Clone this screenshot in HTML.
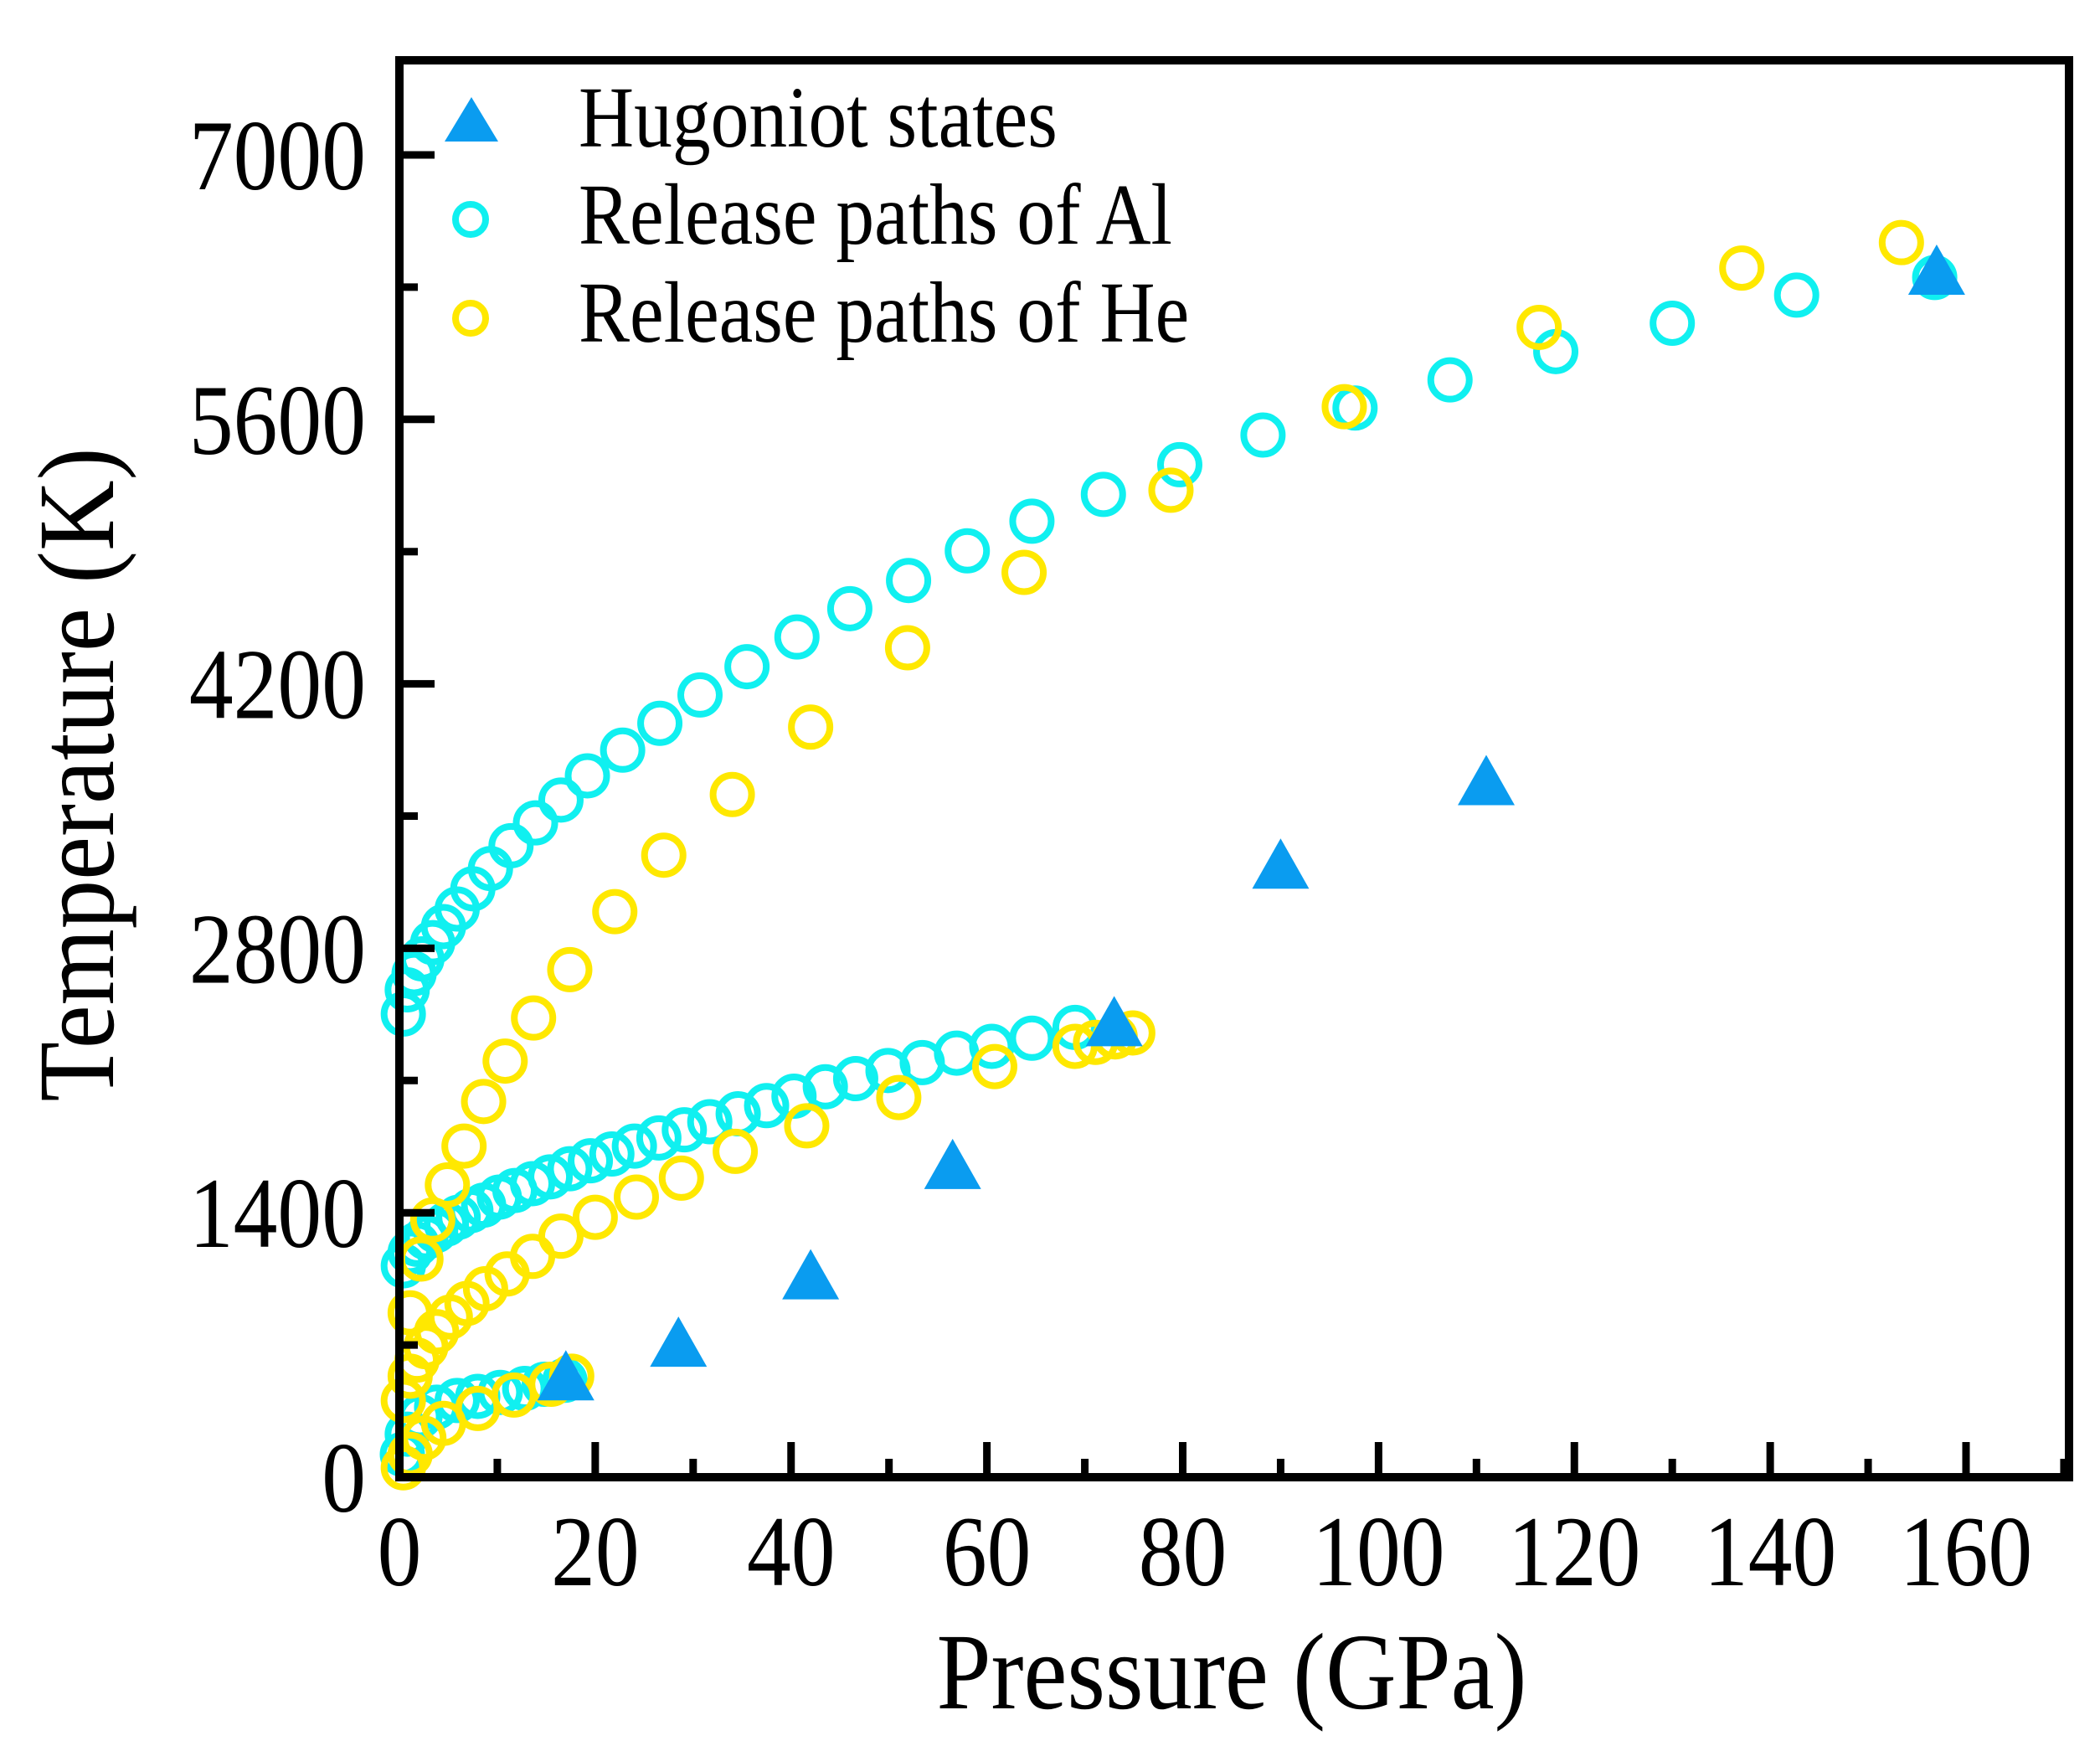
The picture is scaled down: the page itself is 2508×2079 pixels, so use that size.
<!DOCTYPE html>
<html><head><meta charset="utf-8"><style>
html,body{margin:0;padding:0;background:#fff;}
svg{display:block;font-family:"Liberation Serif",serif;}
</style></head><body>
<svg id="chart" width="2508" height="2079" viewBox="0 0 2508 2079" xmlns="http://www.w3.org/2000/svg">
<g id="marks"></g>
<rect x="477" y="72" width="1994" height="1692" fill="none" stroke="#000" stroke-width="10"/>
<g id="axes"></g>
<text transform="translate(1471,2040) scale(0.9,1)" font-size="130" text-anchor="middle">Pressure (GPa)</text>
<text transform="translate(135,925) rotate(-90) scale(0.9,1)" font-size="130" text-anchor="middle">Temperature (K)</text>
<g>
<polygon points="563,116 531,169 595,169" fill="#0a9cf0"/>
<text transform="translate(691,175) scale(0.88,1)" font-size="104">Hugoniot states</text>
<circle cx="562" cy="262" r="18" fill="none" stroke="#10f0f0" stroke-width="8"/>
<text transform="translate(691,291) scale(0.88,1)" font-size="104">Release paths of Al</text>
<circle cx="562" cy="380" r="18" fill="none" stroke="#ffe800" stroke-width="8"/>
<text transform="translate(691,408) scale(0.88,1)" font-size="104">Release paths of He</text>
</g>
</svg>
<script>
const xTicks=[0,20,40,60,80,100,120,140,160];
const yTicks=[0,1400,2800,4200,5600,7000];
const hugP=[17,28.5,42,56.5,73,90,111,157];
const hugT=[513,691,1048,1632,2388,3222,3664,6366];
const alUpP=[156.8,142.7,130.0,118.1,107.3,97.6,88.2,79.7,71.9,64.6,58.0,52.0,46.0,40.6,35.5,30.7,26.6,22.8,19.2,16.5,13.9,11.4,9.3,7.5,5.9,4.5,3.4,2.3,1.5,0.8,0.4];
const alUpT=[6351,6258,6109,5959,5809,5660,5517,5360,5203,5061,4904,4747,4598,4448,4291,4141,3991,3849,3713,3585,3464,3343,3222,3115,3008,2915,2830,2744,2666,2580,2452];
const alMidP=[69.0,64.6,60.5,56.9,53.4,49.9,46.6,43.5,40.3,37.5,34.6,31.7,29.1,26.5,24.0,21.7,19.5,17.4,15.4,13.6,11.8,10.2,8.6,7.3,6.0,4.8,3.7,2.7,1.8,1.1,0.4];
const alMidT=[2381,2324,2281,2245,2195,2153,2110,2067,2017,1967,1924,1882,1839,1796,1753,1711,1675,1633,1590,1554,1518,1483,1440,1411,1376,1340,1305,1269,1233,1191,1119];
const alLowP=[16.9,14.8,12.8,10.3,8.0,5.9,3.8,2.1,0.8,0.3];
const alLowT=[513,492,470,449,428,406,371,321,228,121];
const heUpP=[153.4,137.1,116.4,96.5,78.8,63.8,51.9,42.0,34.0,27.0,22.0,17.4,13.7,10.8,8.6,6.6,4.9,3.4,2.2,1.1];
const heUpT=[6536,6401,6087,5667,5225,4790,4391,3971,3614,3293,2994,2687,2431,2203,1989,1753,1547,1362,1155,870];
const heMidP=[74.9,73.1,71.1,69.0,60.8,51.0,41.6,34.3,28.8,24.2,20.0,16.5,13.6,11.0,8.8,6.9,5.2,3.8,2.7,1.8,1.1,0.4];
const heMidT=[2352,2331,2302,2281,2174,2010,1860,1725,1583,1483,1376,1276,1169,1076,998,920,848,770,691,620,535,406];
const heLowP=[17.6,15.5,11.7,8.0,4.5,2.5,1.1,0.4];
const heLowT=[535,492,435,364,285,207,121,50];

const NS="http://www.w3.org/2000/svg";
const X0=477,XW=2348-477,Y0=1764,YH=1764-185;
function sx(p){return X0+p/160*XW;}
function sy(t){return Y0-t/7000*YH;}
const marks=document.getElementById('marks');
const axes=document.getElementById('axes');
function mk(tag,attrs,parent){const e=document.createElementNS(NS,tag);for(const k in attrs)e.setAttribute(k,attrs[k]);parent.appendChild(e);return e;}

function circles(P,T,color,name){
  for(let i=0;i<P.length;i++){
    const c=mk('circle',{cx:sx(P[i]),cy:sy(T[i]),r:23,fill:'none',stroke:color,'stroke-width':8},marks);
    
    
  }
}
circles(alUpP,alUpT,'#10f0f0','al-release-point');
circles(alMidP,alMidT,'#10f0f0','al-release-point');
circles(alLowP,alLowT,'#10f0f0','al-release-point');
circles(heUpP,heUpT,'#ffe800','he-release-point');
circles(heMidP,heMidT,'#ffe800','he-release-point');
circles(heLowP,heLowT,'#ffe800','he-release-point');
for(let i=0;i<hugP.length;i++){
  const x=sx(hugP[i]),y=sy(hugT[i]);
  const t=mk('polygon',{points:`${x},${y-36} ${x-34},${y+24} ${x+34},${y+24}`,fill:'#0a9cf0'},marks);
  
  
}
for(let v=0;v<=170;v+=10){
  const major=v%20===0;
  const l=mk('line',{x1:sx(v),x2:sx(v),y1:Y0,y2:Y0-(major?42:22),stroke:'#000','stroke-width':9},axes);
  
  
}
xTicks.forEach(v=>{
  const t=mk('text',{transform:`translate(${sx(v)},1893) scale(0.88,1)`,'font-size':120,'text-anchor':'middle'},axes);
  t.textContent=v;
  
  
});
for(let v=0;v<=7500;v+=700){
  const major=v%1400===0;
  const l=mk('line',{x1:X0,x2:X0+(major?42:22),y1:sy(v),y2:sy(v),stroke:'#000','stroke-width':9},axes);
  
  
}
yTicks.forEach(v=>{
  const t=mk('text',{transform:`translate(437,${sy(v)+41}) scale(0.88,1)`,'font-size':120,'text-anchor':'end'},axes);
  t.textContent=v;
  
  
});
</script>
</body></html>
